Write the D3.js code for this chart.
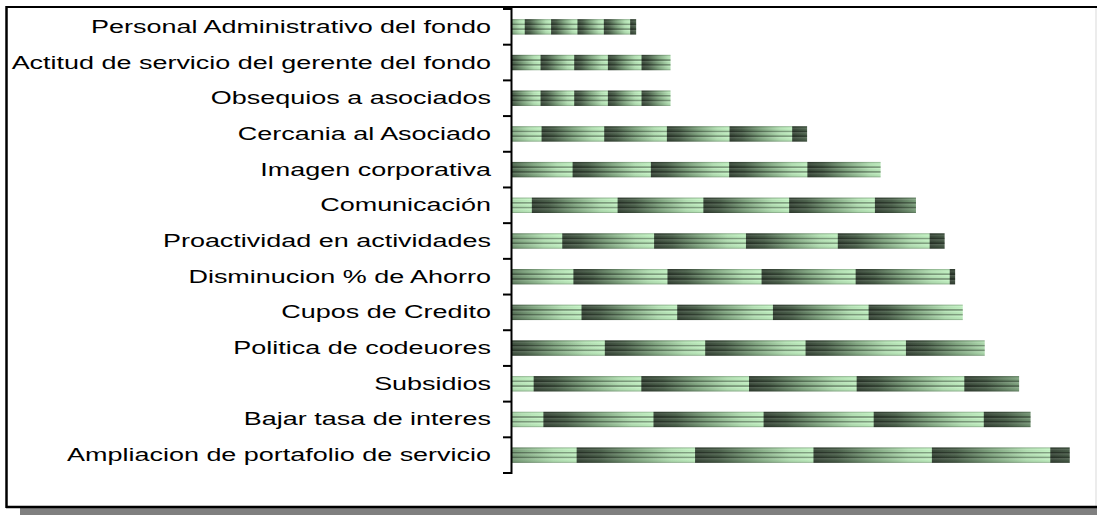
<!DOCTYPE html>
<html>
<head>
<meta charset="utf-8">
<script src="https://cdn.jsdelivr.net/npm/d3@7"></script>
<style>
  body { margin: 0; background: #fff; }
  text { font-family: "Liberation Sans", Arial, sans-serif; }
</style>
</head>
<body>
<div id="vis"></div>
<script>
// ==== DATA ====
const categories = [
  "Personal Administrativo del fondo",
  "Actitud de servicio del gerente del fondo",
  "Obsequios a asociados",
  "Cercania al Asociado",
  "Imagen corporativa",
  "Comunicación",
  "Proactividad en actividades",
  "Disminucion % de Ahorro",
  "Cupos de Credito",
  "Politica de codeuores",
  "Subsidios",
  "Bajar tasa de interes",
  "Ampliacion de portafolio de servicio"
];
const values = [13.0, 16.6, 16.6, 30.9, 38.6, 42.3, 45.3, 46.4, 47.2, 49.5, 53.1, 54.3, 58.4];

// ==== SETUP ====
const width = 1097, height = 515;
const svg = d3.select("#vis")
  .append("svg")
  .attr("width", width)
  .attr("height", height);

const x = d3.scaleLinear().domain([0, 60]).range([512, 1085]);
const y = d3.scaleBand().domain(categories).range([9, 473])
  .paddingInner(0.57).paddingOuter(0.285);

const defs = svg.append("defs");

// tile gradient: dark on the left, light mint on the right
const hgrad = defs.append("linearGradient").attr("id", "hgrad");
[[0, "#384638"], [0.2, "#4a604a"], [0.5, "#80a680"], [0.8, "#b4e2b4"], [1, "#c4f4c4"]]
  .forEach(s => hgrad.append("stop").attr("offset", s[0]).attr("stop-color", s[1]));

// horizontal stripes laid over each bar
const stripes = defs.append("linearGradient").attr("id", "stripes")
  .attr("x1", 0).attr("y1", 0).attr("x2", 0).attr("y2", 1);
[[0, "#000", 0.28], [0.08, "#000", 0.05], [0.12, "#fff", 0.12], [0.26, "#000", 0],
 [0.31, "#000", 0.34], [0.37, "#000", 0.34], [0.43, "#fff", 0.1], [0.57, "#000", 0.04],
 [0.62, "#000", 0.34], [0.68, "#000", 0.34], [0.74, "#fff", 0.1], [0.9, "#000", 0.05],
 [1, "#000", 0.3]]
  .forEach(s => stripes.append("stop").attr("offset", s[0])
    .attr("stop-color", s[1]).attr("stop-opacity", s[2]));

// one stacked picture tile per bar, tile size follows bar length
categories.forEach((c, i) => {
  const w = (x(values[i]) - x(0)) / 4.71;
  const p = defs.append("pattern").attr("id", "pat" + i)
    .attr("patternUnits", "userSpaceOnUse")
    .attr("x", 103).attr("y", 0)
    .attr("width", w).attr("height", height);
  p.append("rect").attr("width", w).attr("height", height).attr("fill", "url(#hgrad)");
});

// ==== FRAME ====
svg.append("rect").attr("x", 20).attr("y", 508).attr("width", width).attr("height", 7)
  .attr("fill", "#808080");
svg.append("line").attr("x1", 1096).attr("x2", 1096).attr("y1", 7).attr("y2", 507)
  .attr("stroke", "#e6e6e6").attr("stroke-width", 1.5);
svg.append("line").attr("x1", 6.5).attr("x2", 6.5).attr("y1", 6).attr("y2", 508)
  .attr("stroke", "#000").attr("stroke-width", 2.5);
svg.append("line").attr("x1", 6).attr("x2", width).attr("y1", 7).attr("y2", 7)
  .attr("stroke", "#000").attr("stroke-width", 2);
svg.append("line").attr("x1", 6).attr("x2", width).attr("y1", 507).attr("y2", 507)
  .attr("stroke", "#000").attr("stroke-width", 2.5);

// ==== BARS ====
const bars = svg.append("g");
bars.selectAll("rect.bar")
  .data(categories)
  .enter()
  .append("rect")
  .attr("class", "bar")
  .attr("x", x(0))
  .attr("y", d => y(d))
  .attr("width", (d, i) => x(values[i]) - x(0))
  .attr("height", y.bandwidth())
  .attr("fill", (d, i) => "url(#pat" + i + ")");

bars.selectAll("rect.stripe")
  .data(categories)
  .enter()
  .append("rect")
  .attr("class", "stripe")
  .attr("x", x(0))
  .attr("y", d => y(d))
  .attr("width", (d, i) => x(values[i]) - x(0))
  .attr("height", y.bandwidth())
  .attr("fill", "url(#stripes)");

// ==== AXIS ====
const boundaries = categories.map(d => y(d) - y.step() * 0.285).concat([473]);
svg.selectAll("line.tick")
  .data(boundaries)
  .enter()
  .append("line")
  .attr("class", "tick")
  .attr("x1", 503).attr("x2", 512)
  .attr("y1", d => d).attr("y2", d => d)
  .attr("stroke", "#000").attr("stroke-width", 2);

svg.append("line").attr("x1", 511.5).attr("x2", 511.5).attr("y1", 8).attr("y2", 474)
  .attr("stroke", "#000").attr("stroke-width", 2);

// labels: the original is stretched sideways, so scale x only
svg.selectAll("text.label")
  .data(categories)
  .enter()
  .append("text")
  .attr("class", "label")
  .attr("transform", d => `translate(491,${y(d) + y.bandwidth() / 2 + 6}) scale(1.54,1)`)
  .attr("text-anchor", "end")
  .style("font-size", "17.5px")
  .attr("fill", "#000")
  .text(d => d);
</script>
</body>
</html>
